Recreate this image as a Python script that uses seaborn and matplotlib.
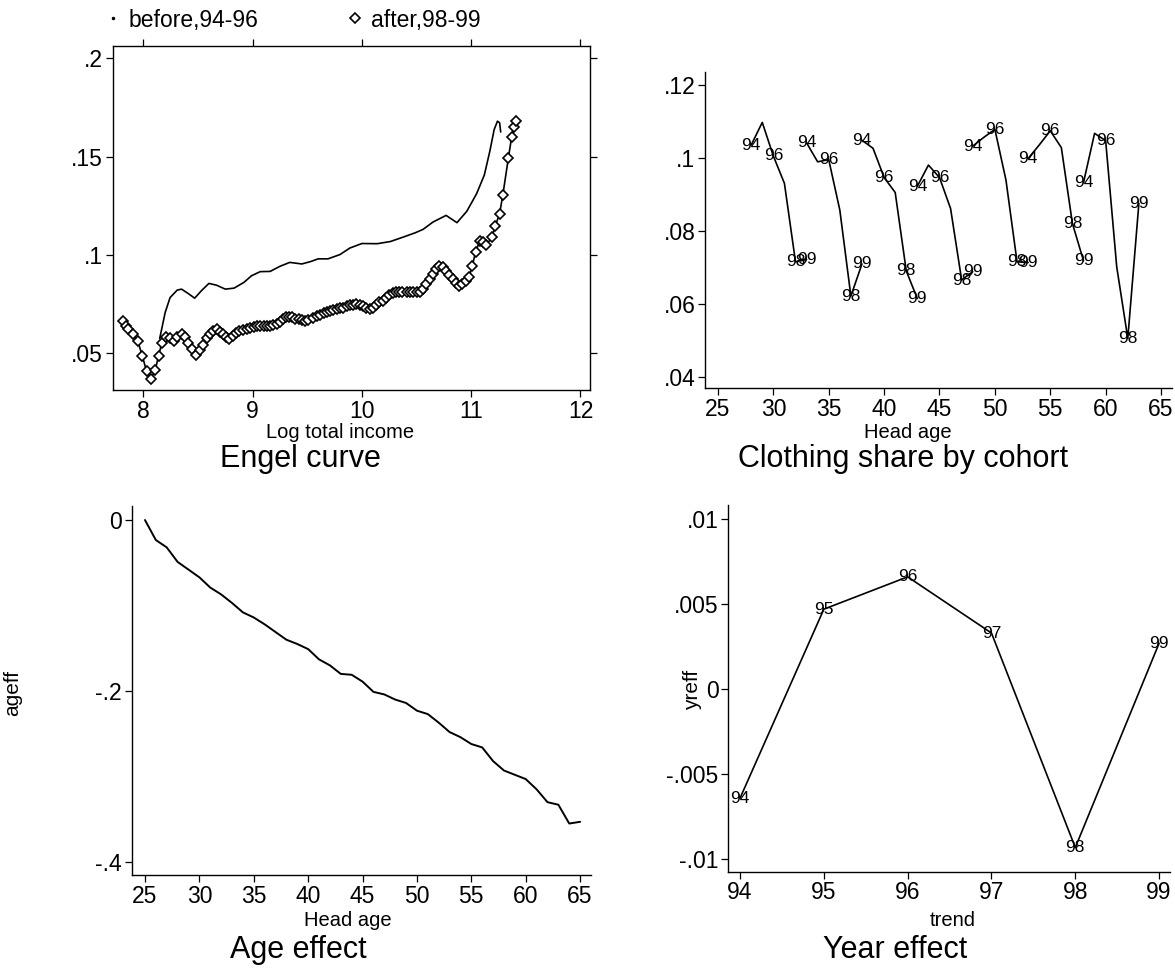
"""
Four-panel clothing expenditure figure: Engel curve, cohort shares,
age effect and year effect.
"""
import matplotlib
matplotlib.use("Agg")
import pandas as pd
import seaborn as sns
from matplotlib import pyplot as plt
from matplotlib.lines import Line2D

# ---- Engel curve (log total income vs clothing share) ----
before_x = [8.15, 8.20, 8.245, 8.31, 8.35, 8.41, 8.47, 8.53, 8.60, 8.67,
            8.75, 8.83, 8.92, 8.99, 9.07, 9.16, 9.25, 9.34, 9.45, 9.53,
            9.60, 9.69, 9.80, 9.89, 10.00, 10.14, 10.26, 10.38, 10.49, 10.56,
            10.65, 10.77, 10.87, 10.96, 11.05, 11.12, 11.17, 11.21, 11.24, 11.26,
            11.27]
before_y = [.0575, .0707, .0783, .0821, .0826, .0804, .0780, .0817, .0855, .0846,
            .0826, .0831, .0860, .0894, .0915, .0916, .0942, .0962, .0954, .0966,
            .0980, .0980, .1002, .1035, .1058, .1057, .1068, .1091, .1113, .1130,
            .1167, .1201, .1164, .1222, .1312, .1406, .1526, .1637, .1680, .1672,
            .1625]

after_x = [7.81, 7.84, 7.86, 7.91, 7.95, 7.99, 8.03, 8.07, 8.11, 8.14,
           8.17, 8.21, 8.24, 8.28, 8.31, 8.35, 8.38, 8.41, 8.45, 8.48,
           8.52, 8.55, 8.58, 8.61, 8.64, 8.67, 8.70, 8.73, 8.76, 8.78,
           8.82, 8.85, 8.88, 8.91, 8.95, 8.98, 9.01, 9.04, 9.07, 9.10,
           9.13, 9.16, 9.19, 9.22, 9.25, 9.28, 9.31, 9.33, 9.36, 9.39,
           9.42, 9.45, 9.48, 9.51, 9.55, 9.59, 9.62, 9.65, 9.68, 9.71,
           9.74, 9.77, 9.80, 9.83, 9.86, 9.89, 9.92, 9.95, 9.98, 10.01,
           10.04, 10.07, 10.10, 10.13, 10.16, 10.19, 10.22, 10.25, 10.28, 10.31,
           10.34, 10.37, 10.41, 10.44, 10.47, 10.50, 10.53, 10.56, 10.59, 10.62,
           10.65, 10.68, 10.71, 10.74, 10.77, 10.80, 10.83, 10.86, 10.89, 10.92,
           10.95, 10.98, 11.01, 11.04, 11.08, 11.11, 11.14, 11.19, 11.22, 11.26,
           11.29, 11.34, 11.37, 11.39, 11.41]
after_y = [.0664, .0640, .0621, .0596, .0561, .0488, .0408, .0369, .0416, .0488,
           .0553, .0584, .0575, .0561, .0580, .0596, .0580, .0553, .0520, .0493,
           .0515, .0544, .0575, .0596, .0615, .0621, .0610, .0596, .0582, .0573,
           .0590, .0604, .0612, .0618, .0625, .0630, .0635, .0638, .0639, .0638,
           .0638, .0640, .0644, .0647, .0660, .0673, .0683, .0686, .0682, .0676,
           .0673, .0668, .0664, .0670, .0680, .0689, .0696, .0704, .0710, .0715,
           .0720, .0724, .0728, .0732, .0738, .0743, .0747, .0749, .0745, .0738,
           .0730, .0724, .0730, .0745, .0758, .0768, .0780, .0795, .0805, .0809,
           .0810, .0809, .0809, .0809, .0809, .0809, .0810, .0825, .0850, .0877,
           .0905, .0930, .0943, .0940, .0920, .0900, .0880, .0855, .0843, .0850,
           .0865, .0886, .0945, .1014, .1073, .1068, .1051, .1091, .1147, .1210,
           .1307, .1492, .1600, .1650, .1680]

engel_xticks = [8, 9, 10, 11, 12]
engel_yticks = [.05, .1, .15, .2]
engel_ylabels = [".05", ".1", ".15", ".2"]

# ---- Clothing share by cohort ----
cohort_base_age = [28, 33, 38, 43, 48, 53, 58]   # head age in 94
cohort_years = [94, 95, 96, 97, 98, 99]
cohort_share = [
    [.1035, .1097, .1005, .0930, .0715, .0721],
    [.1041, .0989, .0995, .0857, .0621, .0709],
    [.1048, .1026, .0946, .0905, .0690, .0614],
    [.0922, .0980, .0946, .0861, .0665, .0688],
    [.1032, .1056, .1078, .0939, .0715, .0713],
    [.0998, .1035, .1074, .1028, .0820, .0718],
    [.0932, .1067, .1047, .0701, .0505, .0875],
]
labelled_years = [94, 96, 98, 99]
cohort_yticks = [.04, .06, .08, .1, .12]
cohort_ylabels = [".04", ".06", ".08", ".1", ".12"]
age_ticks = [25, 30, 35, 40, 45, 50, 55, 60, 65]

# ---- Age effect ----
age_effect_age = list(range(25, 66))
age_effect = [0, -.0234, -.032, -.049, -.058, -.067, -.079, -.087, -.097, -.108,
              -.114, -.122, -.131, -.140, -.145, -.151, -.163, -.170, -.180, -.181,
              -.189, -.201, -.204, -.210, -.214, -.223, -.227, -.237, -.248, -.254,
              -.262, -.266, -.282, -.293, -.298, -.303, -.315, -.330, -.333, -.355,
              -.353]
age_yticks = [0, -.2, -.4]
age_ylabels = ["0", "-.2", "-.4"]

# ---- Year effect ----
trend_years = [94, 95, 96, 97, 98, 99]
year_effect = [-.0064, .0047, .0066, .0033, -.0093, .0027]
year_yticks = [.01, .005, 0, -.005, -.01]
year_ylabels = [".01", ".005", "0", "-.005", "-.01"]

W, H = 1175, 974


def rect(left, top, right, bottom):
    return [left / W, 1 - bottom / H, (right - left) / W, (bottom - top) / H]


def style_axis(ax, full_box=False):
    ax.tick_params(direction='out', length=5, width=0.9, labelsize=16.5, pad=2.0,
                   color='k', labelcolor='k')
    if full_box:
        ax.tick_params(top=True, right=True, labeltop=False, labelright=False)
    else:
        sns.despine(ax=ax)
    for s in ax.spines.values():
        s.set_linewidth(1.0)
        s.set_color('k')
    ax.set_xlabel('')
    ax.set_ylabel('')


def plot():
    sns.set_style("ticks")
    plt.rcParams['font.family'] = ['Liberation Sans', 'DejaVu Sans']
    plt.rcParams['text.color'] = 'k'
    plt.rcParams['xtick.color'] = 'k'
    plt.rcParams['ytick.color'] = 'k'
    fig = plt.figure(figsize=(W / 100, H / 100), dpi=100)

    # Engel curve
    ax1 = fig.add_axes(rect(112.7, 45.7, 590, 390))
    sns.lineplot(x=before_x, y=before_y, ax=ax1, color='k', lw=1.2,
                 estimator=None, sort=False)
    sns.lineplot(x=after_x, y=after_y, ax=ax1, color='k', lw=1.2, marker='D',
                 markersize=4.8, markerfacecolor='white', markeredgecolor='k',
                 markeredgewidth=1.2, estimator=None, sort=False)
    ax1.set_xlim(7.72, 12.087)
    ax1.set_ylim(0.0313, 0.2064)
    ax1.set_xticks(engel_xticks)
    ax1.set_yticks(engel_yticks, engel_ylabels)
    style_axis(ax1, full_box=True)
    handles = [Line2D([], [], ls='', marker='.', ms=3, color='k'),
               Line2D([], [], ls='', marker='D', ms=4.8, mfc='white', mec='k', mew=1.2)]
    fig.legend(handles, ['before,94-96', 'after,98-99'], loc='center left',
               bbox_to_anchor=(106 / W, 1 - 20 / H), ncol=2, frameon=False,
               fontsize=16.5, handlelength=0.6, handletextpad=0.4,
               columnspacing=3.9, borderpad=0, borderaxespad=0)

    # Clothing share by cohort
    rows = []
    for c, base in enumerate(cohort_base_age):
        for yr, share in zip(cohort_years, cohort_share[c]):
            rows.append({"cohort": c, "year": yr, "age": base + yr - 94, "share": share})
    df = pd.DataFrame(rows)
    ax2 = fig.add_axes(rect(705, 71.7, 1172, 388))
    sns.lineplot(data=df, x='age', y='share', units='cohort', estimator=None,
                 color='k', lw=1.2, sort=False, ax=ax2)
    for _, r in df[df['year'].isin(labelled_years)].iterrows():
        ax2.text(r['age'], r['share'], f"{int(r['year'])}", ha='center',
                 va='center', fontsize=12.5)
    ax2.set_xlim(23.83, 65.99)
    ax2.set_ylim(.0369, .1236)
    ax2.set_xticks(age_ticks)
    ax2.set_yticks(cohort_yticks, cohort_ylabels)
    style_axis(ax2)

    # Age effect
    ax3 = fig.add_axes(rect(131.7, 506, 591, 875))
    sns.lineplot(x=age_effect_age, y=age_effect, ax=ax3, color='k', lw=1.4,
                 estimator=None, sort=False)
    ax3.set_xlim(23.78, 66.0)
    ax3.set_ylim(-0.4152, 0.0164)
    ax3.set_xticks(age_ticks)
    ax3.set_yticks(age_yticks, age_ylabels)
    style_axis(ax3)

    # Year effect
    ax4 = fig.add_axes(rect(728.3, 505, 1170, 871.7))
    sns.lineplot(x=trend_years, y=year_effect, ax=ax4, color='k', lw=1.2,
                 estimator=None, sort=False)
    for yr, v in zip(trend_years, year_effect):
        ax4.text(yr, v, f"{yr}", ha='center', va='center', fontsize=12.5)
    ax4.set_xlim(93.86, 99.13)
    ax4.set_ylim(-0.01072, 0.01082)
    ax4.set_xticks(trend_years)
    ax4.set_yticks(year_yticks, year_ylabels)
    style_axis(ax4)

    # axis titles and panel titles (pixel positions from the top)
    def ftext(x, y, s, size):
        fig.text(x / W, 1 - y / H, s, ha='center', va='center', fontsize=size)

    ftext(340, 433, "Log total income", 14.5)
    ftext(908, 432, "Head age", 14.5)
    ftext(348, 920, "Head age", 14.5)
    ftext(953, 920, "trend", 14.5)
    ftext(300, 459, "Engel curve", 22)
    ftext(903, 459, "Clothing share by cohort", 22)
    ftext(298, 950, "Age effect", 22)
    ftext(895, 950, "Year effect", 22)
    fig.text(13 / W, 1 - 693 / H, "ageff", rotation=90, ha='center', va='center', fontsize=15)
    fig.text(693 / W, 1 - 690 / H, "yreff", rotation=90, ha='center', va='center', fontsize=15)

    fig.savefig("out.png", dpi=100)


if __name__ == "__main__":
    plot()
